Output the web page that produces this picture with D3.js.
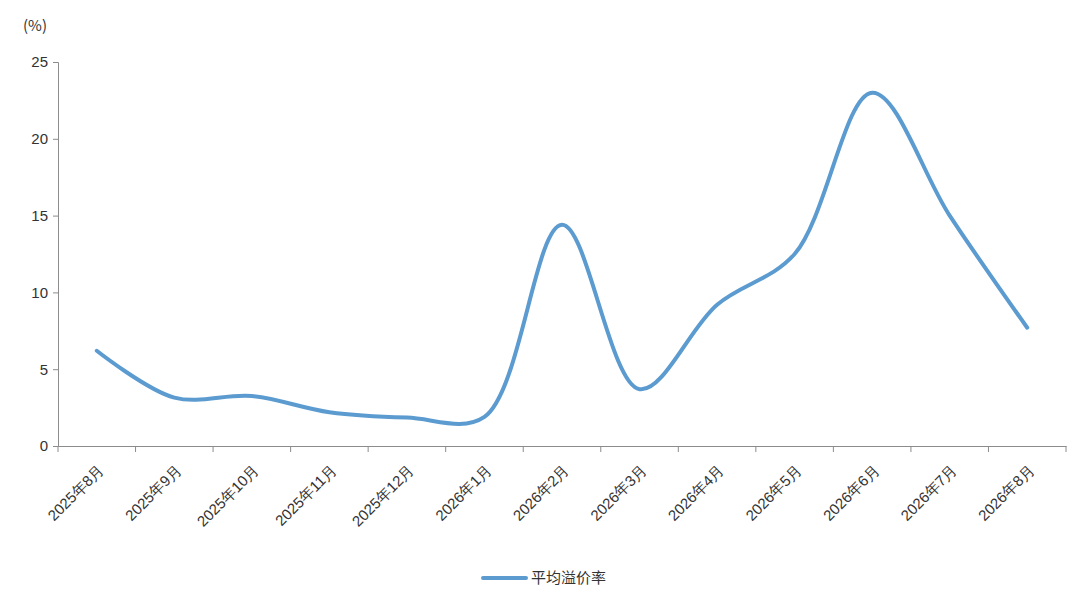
<!DOCTYPE html>
<html><head><meta charset="utf-8">
<script src="https://cdn.jsdelivr.net/npm/d3@7"></script>
<style>body{margin:0;background:#fff;}svg{display:block;font-family:"Noto Sans CJK SC","Noto Sans",sans-serif;}</style>
</head><body>
<svg id="c" width="1080" height="596"></svg>
<script>
const categories = ["2025年8月","2025年9月","2025年10月","2025年11月","2025年12月","2026年1月","2026年2月","2026年3月","2026年4月","2026年5月","2026年6月","2026年7月","2026年8月"];
const premiumRate = [6.2, 3.15, 3.25, 2.2, 1.85, 1.9, 14.4, 3.7, 9.2, 12.5, 23.0, 15.0, 7.7];
const yTicks = [0, 5, 10, 15, 20, 25];
const seriesName = "平均溢价率";
const unitLabel = "(%)";

(function(){
const svg = d3.select("#c");
const mLeft = 58, mRight = 1066, mTop = 62, mBottom = 446;
const x = d3.scaleBand().domain(categories).range([mLeft, mRight]);
const y = d3.scaleLinear().domain([0, 25]).range([mBottom, mTop]);
const axisColor = "#8c8c8c", color = "#5b9bd0";

// Y axis
const ya = svg.append("g").attr("transform", `translate(${mLeft},0)`)
  .call(d3.axisLeft(y).tickValues(yTicks).tickSize(5).tickPadding(5));
ya.select(".domain").attr("stroke", axisColor);
ya.selectAll(".tick line").attr("stroke", axisColor);
ya.selectAll(".tick text").attr("font-size", 15).attr("fill", "#333");

// X axis
const xa = svg.append("g").attr("transform", `translate(0,${mBottom})`)
  .call(d3.axisBottom(x).tickSize(0).tickFormat(""));
xa.select(".domain").attr("stroke", axisColor);
xa.selectAll(".tick").remove();
const bounds = categories.map(c => x(c)).concat([mRight]);
xa.selectAll("line.b").data(bounds).join("line").attr("class","b")
  .attr("x1", d => d).attr("x2", d => d).attr("y1", 0).attr("y2", 6).attr("stroke", axisColor);
xa.selectAll("text.lbl").data(categories).join("text").attr("class","lbl")
  .attr("transform", d => `translate(${x(d) + x.bandwidth()/2 + 8},${25}) rotate(-45)`)
  .attr("text-anchor", "end").attr("font-size", 15).attr("fill", "#333")
  .text(d => d);

// unit
svg.append("text").attr("x", 23).attr("y", 31).attr("font-size", 15).attr("fill", "#333").text(unitLabel);

// line
const line = d3.line()
  .x((d, i) => x(categories[i]) + x.bandwidth()/2)
  .y(d => y(d))
  .curve(d3.curveCatmullRom.alpha(0.5));
svg.append("path").datum(premiumRate).attr("d", line)
  .attr("fill", "none").attr("stroke", color).attr("stroke-width", 4).attr("stroke-linecap", "round");

// legend
const lg = svg.append("g").attr("transform", "translate(483,578)");
lg.append("line").attr("x1", 0).attr("x2", 43).attr("y1", 0).attr("y2", 0).attr("stroke", color).attr("stroke-width", 4).attr("stroke-linecap","round");
lg.append("text").attr("x", 48).attr("y", 5).attr("font-size", 15).attr("fill", "#333").text(seriesName);
})();
</script>
</body></html>
